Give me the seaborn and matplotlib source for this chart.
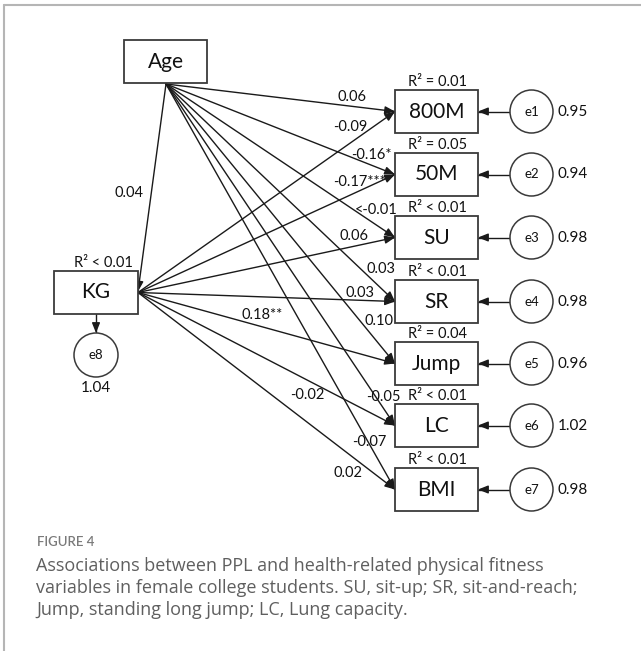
import matplotlib
matplotlib.use("Agg")
import matplotlib.pyplot as plt
import pandas as pd
import seaborn as sns
from matplotlib.patches import Rectangle, Circle

# path model values
outcomes = ["800M", "50M", "SU", "SR", "Jump", "LC", "BMI"]
r2_labels = ["R² = 0.01", "R² = 0.05", "R² < 0.01", "R² < 0.01",
             "R² = 0.04", "R² < 0.01", "R² < 0.01"]
age_coef = ["0.06", "-0.16*", "<-0.01", "0.03", "0.10", "-0.05", "-0.07"]
kg_coef = ["-0.09", "-0.17***", "0.06", "0.03", "0.18**", "-0.02", "0.02"]
residuals = ["e1", "e2", "e3", "e4", "e5", "e6", "e7"]
residual_var = ["0.95", "0.94", "0.98", "0.98", "0.96", "1.02", "0.98"]
age_to_kg = "0.04"
kg_r2 = "R² < 0.01"
kg_resid = "1.04"

caption_title = "FIGURE 4"
caption_lines = [
    "Associations between PPL and health-related physical fitness",
    "variables in female college students. SU, sit-up; SR, sit-and-reach;",
    "Jump, standing long jump; LC, Lung capacity.",
]

# layout in canvas pixels (641 x 651)
AGE_BOX = (124, 40, 83, 43)
KG_BOX = (54, 271, 84, 43)
OUT_X, OUT_W, OUT_H = 395, 83, 43
out_tops = [90, 153, 216, 280, 342, 404, 468]
E_X, E_R = 531.5, 21.5
E8 = (96, 355, 22)
age_label_xy = [(352, 97), (371, 155), (376, 210), (381, 269),
                (379, 321), (383, 397), (369, 442)]
kg_label_xy = [(350, 127), (360, 182), (354, 236), (360, 293),
               (262, 315), (307, 395), (348, 473)]
CAP_X = 36
CAP_Y = [566, 588, 610]
CAP_WIDTH = 540

sns.set_theme(style="white")
plt.rcParams["font.family"] = ["Lato", "DejaVu Sans"]

fig = plt.figure(figsize=(6.41, 6.51), dpi=100)
ax = fig.add_axes([0, 0, 1, 1])
ax.set_xlim(0, 641)
ax.set_ylim(651, 0)

age_src = (AGE_BOX[0] + AGE_BOX[2] / 2 + 0.5, AGE_BOX[1] + AGE_BOX[3] + 1)
kg_src = (KG_BOX[0] + KG_BOX[2], KG_BOX[1] + KG_BOX[3] / 2)
out_cy = [t + OUT_H / 2 for t in out_tops]

edges = []
for i, cy in enumerate(out_cy):
    edges.append(("age_" + outcomes[i], age_src, (OUT_X, cy)))
    edges.append(("kg_" + outcomes[i], kg_src, (OUT_X, cy)))
    edges.append(("res_" + outcomes[i], (E_X - E_R, cy), (OUT_X + OUT_W, cy)))
edges.append(("age_kg", age_src, (kg_src[0], kg_src[1] - 1)))
edges.append(("kg_e8", (E8[0], KG_BOX[1] + KG_BOX[3]), (E8[0], E8[1] - E8[2])))

rows = []
for name, (x0, y0), (x1, y1) in edges:
    rows.append({"edge": name, "x": x0, "y": y0})
    rows.append({"edge": name, "x": x1, "y": y1})
edge_df = pd.DataFrame(rows)

sns.lineplot(data=edge_df, x="x", y="y", units="edge", estimator=None,
             sort=False, color="#1a1a1a", linewidth=1.0, legend=False, ax=ax)

for name, (x0, y0), (x1, y1) in edges:
    dx, dy = x1 - x0, y1 - y0
    d = (dx ** 2 + dy ** 2) ** 0.5
    ax.annotate("", xy=(x1, y1), xytext=(x1 - dx / d * 6, y1 - dy / d * 6),
                arrowprops=dict(arrowstyle="-|>,head_length=0.5,head_width=0.2",
                                color="#1a1a1a", lw=1.0, shrinkA=0, shrinkB=0))

box_kw = dict(facecolor="white", edgecolor="#3a3a3a", linewidth=1.3, zorder=3)
ax.add_patch(Rectangle(AGE_BOX[:2], AGE_BOX[2], AGE_BOX[3], **box_kw))
ax.add_patch(Rectangle(KG_BOX[:2], KG_BOX[2], KG_BOX[3], **box_kw))
ax.text(AGE_BOX[0] + AGE_BOX[2] / 2, AGE_BOX[1] + AGE_BOX[3] / 2, "Age",
        ha="center", va="center", fontsize=15, color="#111", zorder=4)
ax.text(KG_BOX[0] + KG_BOX[2] / 2, KG_BOX[1] + KG_BOX[3] / 2, "KG",
        ha="center", va="center", fontsize=15, color="#111", zorder=4)
ax.text(103, KG_BOX[1] - 8, kg_r2, ha="center", va="center", fontsize=10.5,
        color="#111", zorder=4)

ax.add_patch(Circle(E8[:2], E8[2], facecolor="white", edgecolor="#3a3a3a",
                    linewidth=1.1, zorder=3))
ax.text(E8[0], E8[1], "e8", ha="center", va="center", fontsize=9.5,
        color="#111", zorder=4)
ax.text(E8[0], E8[1] + E8[2] + 11, kg_resid, ha="center", va="center",
        fontsize=11, color="#111")

for i, (top, cy) in enumerate(zip(out_tops, out_cy)):
    ax.add_patch(Rectangle((OUT_X, top), OUT_W, OUT_H, **box_kw))
    ax.text(OUT_X + OUT_W / 2, cy, outcomes[i], ha="center", va="center",
            fontsize=15, color="#111", zorder=4)
    ax.text(OUT_X + OUT_W / 2 + 1, top - 8, r2_labels[i], ha="center",
            va="center", fontsize=10.5, color="#111", zorder=4)
    ax.add_patch(Circle((E_X, cy), E_R, facecolor="white", edgecolor="#3a3a3a",
                        linewidth=1.1, zorder=3))
    ax.text(E_X, cy, residuals[i], ha="center", va="center", fontsize=9.5,
            color="#111", zorder=4)
    ax.text(E_X + E_R + 5, cy, residual_var[i], ha="left", va="center",
            fontsize=11, color="#111")
    ax.text(*age_label_xy[i], age_coef[i], ha="center", va="center",
            fontsize=10.5, color="#111", zorder=5)
    ax.text(*kg_label_xy[i], kg_coef[i], ha="center", va="center",
            fontsize=10.5, color="#111", zorder=5)

ax.text(129, 193, age_to_kg, ha="center", va="center", fontsize=10.5,
        color="#111")

# caption, sized so the longest line spans the same width as the original
cap_texts = [ax.text(CAP_X, y, line, ha="left", va="center", fontsize=12,
                     color="#5f5f5f", family=["Open Sans", "DejaVu Sans"])
             for y, line in zip(CAP_Y, caption_lines)]
fig.canvas.draw()
w = cap_texts[1].get_window_extent().width
for t in cap_texts:
    t.set_fontsize(12 * CAP_WIDTH / w)
ax.text(CAP_X + 1, 542, caption_title, ha="left", va="center", fontsize=9.5,
        color="#7a7a7a", fontweight="semibold")

# frame
ax.plot([4, 641], [5, 5], color="#b5b5b5", linewidth=1.5)
ax.plot([4, 4], [5, 651], color="#b5b5b5", linewidth=1.5)

ax.axis("off")

fig.savefig("out.png", dpi=100)
